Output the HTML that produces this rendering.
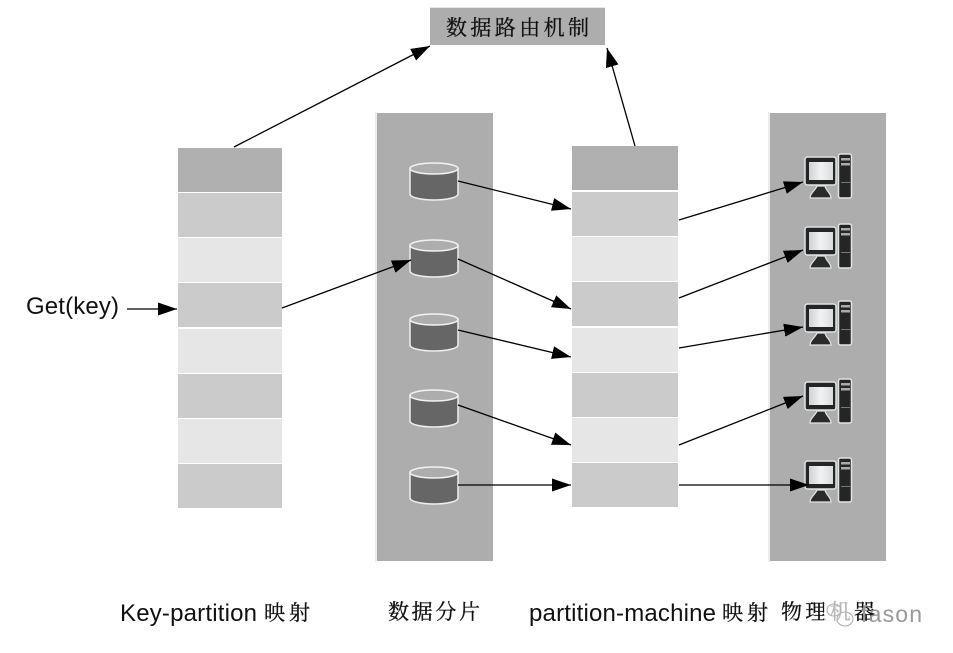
<!DOCTYPE html>
<html><head><meta charset="utf-8"><style>
html,body{margin:0;padding:0;background:#fff}
svg{display:block}
.l{font-family:"Liberation Sans","Noto Serif CJK SC",sans-serif;font-size:24px;fill:#111}
.c{font-family:"Noto Serif CJK SC","Liberation Serif",serif;font-size:21px;fill:#111;stroke:#111;stroke-width:.3}
</style></head><body>
<svg width="953" height="653" viewBox="0 0 953 653" xmlns="http://www.w3.org/2000/svg">
<defs>
<marker id="a" markerUnits="userSpaceOnUse" markerWidth="20" markerHeight="14" refX="19" refY="6.5" orient="auto"><path d="M0 0L19 6.5L0 13Z" fill="#000"/></marker>
<linearGradient id="scr" x1="0" x2="1" y1="0" y2="0"><stop offset="0" stop-color="#cfd3d5"/><stop offset=".5" stop-color="#f1f3f3"/><stop offset="1" stop-color="#d8dcdd"/></linearGradient>
<g id="cyl">
<path d="M0 7V32A24 6 0 0 0 48 32V7Z" fill="#666" stroke="#eee" stroke-width="1.5"/>
<ellipse cx="24" cy="6.5" rx="24" ry="5.5" fill="#adadad" stroke="#f2f2f2" stroke-width="1.5"/>
</g>
<g id="pc">
<rect x="0" y="3" width="31" height="28" rx="2.5" fill="#252525" stroke="#dfe5e5" stroke-width="1.5"/>
<rect x="4" y="8" width="24" height="18" fill="url(#scr)"/>
<path d="M5 44C5 39 10 37 12 32H20C21 37 26 39 26 44Z" fill="#2a2a2a" stroke="#dfe5e5" stroke-width="1.2"/>
<rect x="33.5" y="0" width="13" height="44" rx="2" fill="#252525" stroke="#dfe5e5" stroke-width="1.5"/>
<rect x="36" y="4" width="9" height="2.5" fill="#aaa"/>
<rect x="36" y="9" width="9" height="2.5" fill="#aaa"/>
<rect x="36" y="28" width="9" height="1" fill="#777"/>
</g>
</defs>

<rect x="430" y="7" width="175" height="1" fill="#e6e6e6"/>
<rect x="430" y="8" width="175" height="37" fill="#adadad"/>
<text class="c" x="446" y="35" textLength="143" lengthAdjust="spacing">数据路由机制</text>

<rect x="375" y="112" width="2" height="450" fill="#ececec"/>
<rect x="377" y="113" width="116" height="448" fill="#adadad"/>
<rect x="768" y="112" width="2" height="450" fill="#ececec"/>
<rect x="770" y="113" width="116" height="448" fill="#adadad"/>

<g>
<rect x="178" y="148" width="104" height="44" fill="#b0b0b0"/>
<rect x="178" y="193" width="104" height="44" fill="#cbcbcb"/>
<rect x="178" y="238" width="104" height="44" fill="#e6e6e6"/>
<rect x="178" y="283" width="104" height="44" fill="#cbcbcb"/>
<rect x="178" y="329" width="104" height="44" fill="#e6e6e6"/>
<rect x="178" y="374" width="104" height="44" fill="#cbcbcb"/>
<rect x="178" y="419" width="104" height="44" fill="#e6e6e6"/>
<rect x="178" y="464" width="104" height="44" fill="#cbcbcb"/>
</g>
<g>
<rect x="572" y="146" width="106" height="44" fill="#b0b0b0"/>
<rect x="572" y="192" width="106" height="44" fill="#cbcbcb"/>
<rect x="572" y="237" width="106" height="44" fill="#e6e6e6"/>
<rect x="572" y="282" width="106" height="44" fill="#cbcbcb"/>
<rect x="572" y="328" width="106" height="44" fill="#e6e6e6"/>
<rect x="572" y="373" width="106" height="44" fill="#cbcbcb"/>
<rect x="572" y="418" width="106" height="44" fill="#e6e6e6"/>
<rect x="572" y="463" width="106" height="44" fill="#cbcbcb"/>
</g>

<use href="#cyl" x="410" y="162"/>
<use href="#cyl" x="410" y="239"/>
<use href="#cyl" x="410" y="313"/>
<use href="#cyl" x="410" y="389"/>
<use href="#cyl" x="410" y="466"/>

<use href="#pc" x="805" y="154"/>
<use href="#pc" x="805" y="224"/>
<use href="#pc" x="805" y="301"/>
<use href="#pc" x="805" y="379"/>
<use href="#pc" x="805" y="458"/>

<g stroke="#000" stroke-width="1.3" fill="none" marker-end="url(#a)">
<line x1="234" y1="147" x2="430" y2="46"/>
<line x1="635" y1="146" x2="607" y2="48"/>
<line x1="127" y1="309" x2="177" y2="309"/>
<line x1="282" y1="308" x2="411" y2="260"/>
<line x1="458" y1="181" x2="571" y2="209"/>
<line x1="458" y1="259" x2="571" y2="309"/>
<line x1="458" y1="330" x2="571" y2="357"/>
<line x1="458" y1="405" x2="571" y2="445"/>
<line x1="458" y1="485" x2="571" y2="485"/>
<line x1="679" y1="220" x2="803" y2="182"/>
<line x1="679" y1="298" x2="803" y2="250"/>
<line x1="679" y1="348" x2="803" y2="327"/>
<line x1="679" y1="445" x2="803" y2="396"/>
<line x1="679" y1="485" x2="809" y2="485"/>
</g>

<text class="l" x="26" y="314" textLength="93">Get(key)</text>
<text class="l" x="120" y="621" textLength="137">Key-partition</text>
<text class="c" x="264" y="620" textLength="46" lengthAdjust="spacing">映射</text>
<text class="c" x="388" y="619" textLength="92" lengthAdjust="spacing">数据分片</text>
<text class="l" x="529" y="621" textLength="187">partition-machine</text>
<text class="c" x="722" y="620" textLength="46" lengthAdjust="spacing">映射</text>
<text class="c" x="781" y="619" textLength="94" lengthAdjust="spacing">物理机器</text>

<rect x="824" y="600" width="26" height="28" fill="#fff" opacity=".7"/>
<g fill="none" stroke="#b0b0b0" stroke-width="1.1">
<ellipse cx="834" cy="610" rx="7" ry="6"/>
<ellipse cx="845" cy="619" rx="8" ry="7"/>
</g>
<text x="861" y="622" font-family="Liberation Sans,sans-serif" font-size="23" fill="#999" letter-spacing="1.2">fason</text>
</svg>
</body></html>
